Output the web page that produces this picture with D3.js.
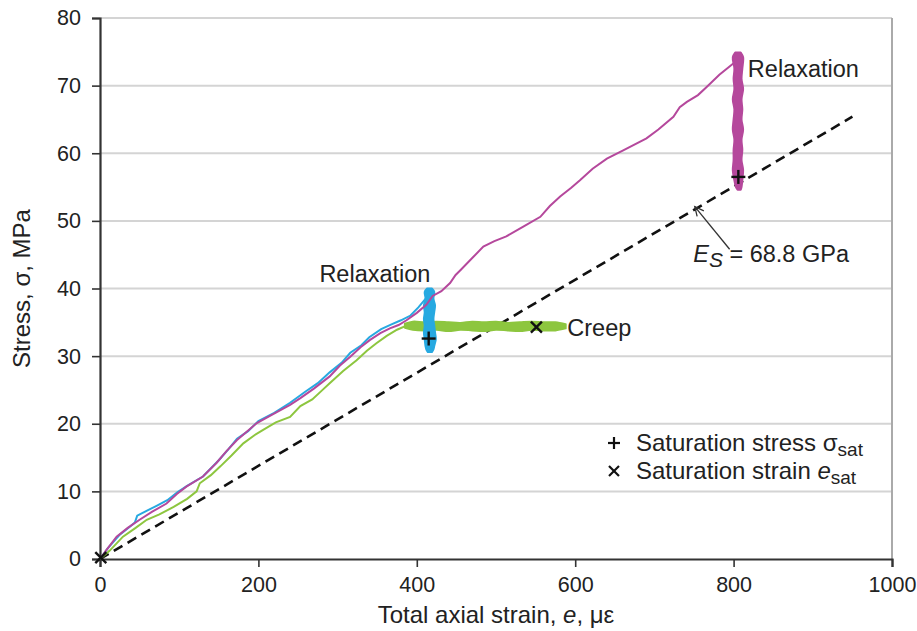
<!DOCTYPE html>
<html><head><meta charset="utf-8">
<script src="https://cdn.jsdelivr.net/npm/d3@7"></script>
<style>
body{margin:0;background:#fff;}
text{font-family:"Liberation Sans",Arial,sans-serif;fill:#222;}
</style></head>
<body><svg id="chart" width="917" height="631"></svg>
<script>
// ---- data (strain in microstrain, stress in MPa) ----
const xTicks = [0, 200, 400, 600, 800, 1000];
const yTicks = [0, 10, 20, 30, 40, 50, 60, 70, 80];

const greenLoad = [[0,0],[12,1.2],[29,3.3],[45,4.6],[59,5.8],[75,6.6],[93,7.7],[110,8.9],[122,10.0],[126,11.2],[140,12.4],[152,13.7],[166,15.3],[181,17.1],[195,18.3],[206,19.1],[222,20.2],[240,21.0],[253,22.6],[268,23.6],[280,24.9],[290,26.0],[307,27.8],[324,29.4],[337,30.8],[349,31.9],[362,33.0],[375,33.9],[387,34.5]];
// creep band: [strain, lower stress, upper stress]
const greenCreep = [[385,34.2,34.8],[395,33.9,35.1],[410,33.8,35.0],[425,33.9,35.1],[440,33.7,35.0],[455,33.9,34.9],[470,33.8,35.1],[485,33.7,35.0],[500,33.9,35.1],[515,33.8,34.9],[530,33.7,35.0],[545,33.9,35.1],[560,33.8,35.0],[575,33.8,35.0],[588,34.1,34.7]];

const blueLoad = [[0,0],[10,1.6],[25,3.6],[38,4.8],[44,5.4],[47,6.4],[60,7.2],[72,7.9],[85,8.7],[98,9.9],[110,10.8],[130,12.2],[150,14.6],[162,16.2],[173,17.8],[187,18.9],[200,20.4],[220,21.6],[240,23.1],[260,24.8],[275,26.0],[290,27.6],[305,29.0],[316,30.5],[330,31.6],[340,32.8],[355,34.0],[368,34.7],[380,35.3],[392,36.0],[402,37.2],[412,38.6]];
// relaxation band: [stress, left strain, right strain]
const blueRelax = [[40.0,413,419],[39.5,410,422],[38.5,411,421],[37.5,409,423],[36.5,410,422],[35.5,409,421],[34.5,410,422],[33.5,409,423],[32.5,410,424],[31.5,411,422],[31.0,412,421],[30.6,414,419]];

const pinkLoad = [[0,0],[8,1.3],[21,3.3],[35,4.6],[50,5.8],[66,7.0],[84,8.2],[97,9.6],[109,10.7],[130,12.2],[147,14.2],[160,16.0],[173,17.6],[186,18.9],[198,20.1],[218,21.4],[240,22.8],[253,23.8],[270,25.2],[290,27.0],[303,28.6],[316,29.9],[329,31.3],[341,32.4],[354,33.4],[366,34.1],[377,34.6],[387,35.3],[400,36.4],[412,37.6],[420,38.9],[431,39.6],[442,40.8],[449,42.0],[455,42.7],[470,44.5],[484,46.2],[498,47.0],[513,47.7],[535,49.2],[556,50.6],[568,52.2],[581,53.6],[595,54.9],[606,56.0],[622,57.7],[640,59.2],[660,60.4],[690,62.2],[705,63.5],[724,65.4],[732,66.8],[741,67.6],[755,68.6],[766,69.8],[782,71.6],[800,73.3]];
const pinkRelax = [[74.9,802,809],[74.2,799,812],[72.5,801,811],[71.0,800,810],[69.5,801,812],[68.0,799,810],[66.5,801,811],[65.0,800,810],[63.5,799,812],[62.0,801,810],[60.5,800,811],[59.0,800,810],[57.5,799,812],[56.0,801,811],[55.0,803,810],[54.6,805,809]];

const esLine = [[0,0],[950,65.4]];
const plusMarks = [[415,32.6],[806,56.5]];
const crossMarks = [[551,34.3],[1,0.2]];

const colors = {green:"#8dc63f", blue:"#27a9e1", pink:"#b5489c"};

// ---- layout ----
const W = 917, H = 631;
const m = {left:100, right:25, top:18, bottom:72};
const svg = d3.select("#chart");
const x = d3.scaleLinear().domain([0,1000]).range([m.left, W-m.right]);
const y = d3.scaleLinear().domain([0,80]).range([H-m.bottom, m.top]);

// gridlines
svg.append("g").selectAll("line").data(yTicks.filter(d=>d>0)).join("line")
  .attr("x1", x(0)).attr("x2", x(1000)).attr("y1", d=>y(d)).attr("y2", d=>y(d))
  .attr("stroke", "#d4d4d4").attr("stroke-width", 2);
// right border
svg.append("line").attr("x1", x(1000)).attr("x2", x(1000)).attr("y1", y(80)).attr("y2", y(0))
  .attr("stroke", "#aaa").attr("stroke-width", 2);

// axes
const xAxis = svg.append("g").attr("transform", `translate(0,${y(0)})`)
  .call(d3.axisBottom(x).tickValues(xTicks).tickSize(8).tickPadding(10).tickFormat(d3.format("d")));
const yAxis = svg.append("g").attr("transform", `translate(${x(0)},0)`)
  .call(d3.axisLeft(y).tickValues(yTicks).tickSize(8).tickPadding(11).tickFormat(d3.format("d")));
[xAxis, yAxis].forEach(g => {
  g.select(".domain").attr("stroke", "#333").attr("stroke-width", 2.2);
  g.selectAll(".tick line").attr("stroke", "#333").attr("stroke-width", 1.6);
  g.selectAll(".tick text").attr("font-size", 21.5).attr("font-family", "Liberation Sans, Arial, sans-serif").attr("fill", "#222");
});

const line = d3.line().x(d=>x(d[0])).y(d=>y(d[1]));
const vBand = d3.area().curve(d3.curveCatmullRom).y(d=>y(d[0])).x0(d=>x(d[1])).x1(d=>x(d[2]));
const hBand = d3.area().curve(d3.curveCatmullRom).x(d=>x(d[0])).y0(d=>y(d[1])).y1(d=>y(d[2]));

// dashed elastic line
svg.append("path").attr("d", line(esLine)).attr("fill","none")
  .attr("stroke","#111").attr("stroke-width",2.6).attr("stroke-dasharray","10,6");

// green
svg.append("path").attr("d", line(greenLoad)).attr("fill","none").attr("stroke",colors.green).attr("stroke-width",2);
svg.append("path").attr("d", hBand(greenCreep)).attr("fill",colors.green).attr("stroke",colors.green)
  .attr("stroke-width",2).attr("stroke-linejoin","round");
// blue
svg.append("path").attr("d", line(blueLoad)).attr("fill","none").attr("stroke",colors.blue).attr("stroke-width",2);
svg.append("path").attr("d", vBand(blueRelax)).attr("fill",colors.blue).attr("stroke",colors.blue)
  .attr("stroke-width",2).attr("stroke-linejoin","round");
// pink
svg.append("path").attr("d", line(pinkLoad)).attr("fill","none").attr("stroke",colors.pink).attr("stroke-width",2);
svg.append("path").attr("d", vBand(pinkRelax)).attr("fill",colors.pink).attr("stroke",colors.pink)
  .attr("stroke-width",2).attr("stroke-linejoin","round");

// markers
const ms = 7;
plusMarks.forEach(d => {
  const g = svg.append("g").attr("transform", `translate(${x(d[0])},${y(d[1])})`);
  g.append("line").attr("x1",-ms).attr("x2",ms).attr("stroke","#111").attr("stroke-width",2.4);
  g.append("line").attr("y1",-ms).attr("y2",ms).attr("stroke","#111").attr("stroke-width",2.4);
});
crossMarks.forEach(d => {
  const g = svg.append("g").attr("transform", `translate(${x(d[0])},${y(d[1])})`);
  g.append("line").attr("x1",-5.5).attr("x2",5.5).attr("y1",-5.5).attr("y2",5.5).attr("stroke","#111").attr("stroke-width",2.4);
  g.append("line").attr("x1",-5.5).attr("x2",5.5).attr("y1",5.5).attr("y2",-5.5).attr("stroke","#111").attr("stroke-width",2.4);
});

// annotations
const fs = 23.5;
svg.append("text").attr("x", x(277)).attr("y", y(41)).attr("font-size", fs).text("Relaxation");
svg.append("text").attr("x", x(818)).attr("y", y(71.3)).attr("font-size", fs).text("Relaxation");
svg.append("text").attr("x", x(590)).attr("y", y(33)).attr("font-size", fs).text("Creep");

// Es annotation with arrow
const aTail = [795, 45.8], aHead = [751, 52.1];
svg.append("line").attr("x1", x(aTail[0])).attr("y1", y(aTail[1])).attr("x2", x(aHead[0])).attr("y2", y(aHead[1]))
  .attr("stroke","#333").attr("stroke-width",1.3);
{
  const hx = x(aHead[0]), hy = y(aHead[1]);
  const ang = Math.atan2(y(aTail[1])-hy, x(aTail[0])-hx);
  const L = 10, sp = 0.45;
  svg.append("path").attr("d",
    `M${hx+L*Math.cos(ang-sp)},${hy+L*Math.sin(ang-sp)}L${hx},${hy}L${hx+L*Math.cos(ang+sp)},${hy+L*Math.sin(ang+sp)}`)
    .attr("fill","none").attr("stroke","#333").attr("stroke-width",1.3);
}
const esText = svg.append("text").attr("x", x(749)).attr("y", y(43.9)).attr("font-size", fs);
esText.append("tspan").attr("font-style","italic").text("E");
esText.append("tspan").attr("font-style","italic").attr("font-size", 21).attr("dy", 5).text("S");
esText.append("tspan").attr("dy", -5).text(" = 68.8 GPa");

// legend
const lgX = 614, lfs = 24;
const lg1y = 451, lg2y = 479;
svg.append("line").attr("x1",lgX-6).attr("x2",lgX+6).attr("y1",lg1y-8).attr("y2",lg1y-8).attr("stroke","#111").attr("stroke-width",2.2);
svg.append("line").attr("x1",lgX).attr("x2",lgX).attr("y1",lg1y-14).attr("y2",lg1y-2).attr("stroke","#111").attr("stroke-width",2.2);
svg.append("line").attr("x1",lgX-5).attr("x2",lgX+5).attr("y1",lg2y-13).attr("y2",lg2y-3).attr("stroke","#111").attr("stroke-width",2.2);
svg.append("line").attr("x1",lgX-5).attr("x2",lgX+5).attr("y1",lg2y-3).attr("y2",lg2y-13).attr("stroke","#111").attr("stroke-width",2.2);
const t1 = svg.append("text").attr("x", 636).attr("y", lg1y).attr("font-size", lfs);
t1.append("tspan").text("Saturation stress σ");
t1.append("tspan").attr("font-size", 19).attr("dy", 5).text("sat");
const t2 = svg.append("text").attr("x", 636).attr("y", lg2y).attr("font-size", lfs);
t2.append("tspan").text("Saturation strain ");
t2.append("tspan").attr("font-style","italic").text("e");
t2.append("tspan").attr("font-size", 19).attr("dy", 5).text("sat");

// axis titles
const xt = svg.append("text").attr("x", x(500)).attr("y", 623).attr("text-anchor","middle").attr("font-size", 24);
xt.append("tspan").text("Total axial strain, ");
xt.append("tspan").attr("font-style","italic").text("e");
xt.append("tspan").text(", με");
svg.append("text").attr("transform", `translate(30,${y(40)}) rotate(-90)`).attr("text-anchor","middle")
  .attr("font-size", 24).text("Stress, σ, MPa");
</script></body></html>
